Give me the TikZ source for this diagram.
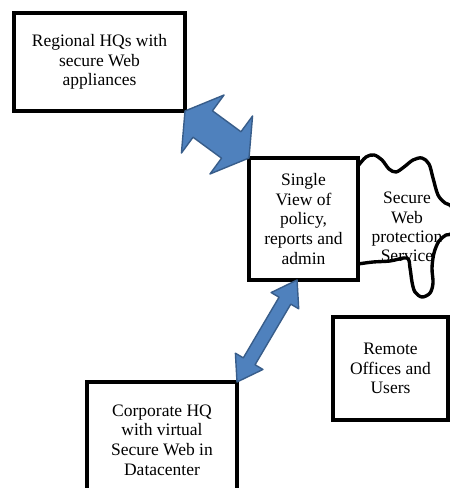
\documentclass[tikz,border=0pt]{standalone}
\usepackage{fontspec}
\setmainfont{Liberation Serif}
\usetikzlibrary{calc}
\definecolor{arrowfill}{HTML}{4F81BD}
\definecolor{arrowline}{HTML}{385D8A}
\def\linkarrow[#1](#2)(#3)(#4:#5:#6){%
	\coordinate (h1) at ($(#2)!#6!(#3)$);
	\coordinate (h2) at ($(#3)!#6!(#2)$);
	\draw[#1] (#2) -- ($(h1)!#5!90:(#3)$) -- ($(h1)!#4!90:(#3)$) -- ($(h2)!#4!-90:(#2)$) -- ($(h2)!#5!-90:(#2)$) -- (#3) -- ($(h2)!#5!90:(#2)$) -- ($(h2)!#4!90:(#2)$) -- ($(h1)!#4!-90:(#3)$) -- ($(h1)!#5!-90:(#3)$) -- cycle;}

\begin{document}
\begin{tikzpicture}[
		box/.style={draw, line width=2.5pt, rectangle, align=center, inner sep=0pt, outer sep=0pt, font=\fontsize{12.45}{13.95}\selectfont},
		cloudtext/.style={align=center, inner sep=0pt, font=\fontsize{12.45}{13.7}\selectfont},
		cloudline/.style={line width=2.4pt, line join=round},
		bluearrow/.style={fill=arrowfill, draw=arrowline, line width=1pt, line join=round}]
		%%%%% START %%%%%
		
		\clip (0,0) rectangle (11.25,12.2);
		
		\node[cloudtext] (swps) at (10.175,6.525) {Secure\\Web\\protection\\Service};
		\draw[cloudline] plot[smooth, tension=0.55] coordinates {(8.95,8.05) (9.15,8.275) (9.35,8.325) (9.55,8.2) (9.725,7.975) (9.9,7.9) (10.1,8.025) (10.325,8.2) (10.55,8.25) (10.725,8.1) (10.825,7.75) (10.95,7.325) (11.125,7.125) (11.3,7.0) (11.3,6.4) (11.15,6.325) (10.975,6.175) (10.85,5.875) (10.8,5.5) (10.825,5.125) (10.75,4.875) (10.55,4.775) (10.375,4.9) (10.3,5.15) (10.25,5.5) (10.175,5.75) (9.75,5.675) (9.325,5.65) (8.95,5.6)} -- cycle;
		
		\node[box, minimum width=4.275cm, minimum height=2.45cm] (regional) at (2.4875,10.65) {Regional HQs with\\secure Web\\appliances};
		\node[box, minimum width=2.725cm, minimum height=3.05cm] (single) at (7.5875,6.725) {Single\\View of\\policy,\\reports and\\admin};
		\node[box, minimum width=2.875cm, minimum height=2.575cm] (remote) at (9.7625,2.9875) {Remote\\Offices and\\Users};
		\node[box, minimum width=3.75cm, minimum height=2.9cm] (corporate) at (4.05,1.2) {Corporate HQ\\with virtual\\Secure Web in\\Datacenter};
		
		\coordinate (svbot) at ([xshift=-0.16cm]single.south);
		
		\linkarrow[bluearrow](regional.south east)(single.north west)(0.41cm:0.9cm:0.55cm)
		\linkarrow[bluearrow](svbot)(corporate.north east)(0.17cm:0.4cm:0.6cm)
		
		%%%%% END %%%%%
\end{tikzpicture}
\end{document}
